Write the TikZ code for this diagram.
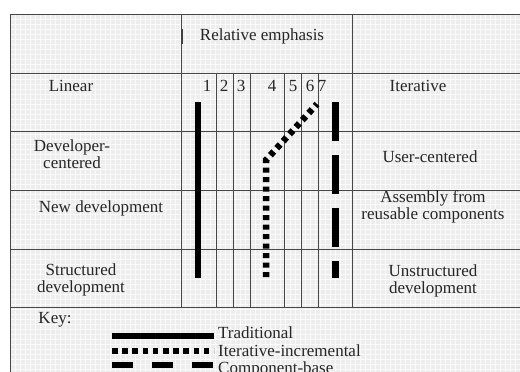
\documentclass[tikz,border=0pt]{standalone}
\usepackage{fontspec}
\setmainfont{Liberation Serif}
\usetikzlibrary{calc}

\begin{document}
\begin{tikzpicture}[x=1pt,y=-1pt,
    every node/.style={font=\fontsize{17}{17.5}\selectfont,text=black!85,align=center,inner sep=0pt},
    rule/.style={black!72,line width=0.9pt},
    tradline/.style={line width=6pt},
    iterline/.style={line width=6.5pt,dash pattern=on 5pt off 4.5pt},
    compline/.style={line width=7pt,dash pattern=on 39pt off 14pt}]
    \useasboundingbox (0,0) rectangle (520,372);
    % paper
    \fill[black!7] (10,14) rectangle (520,372);
    \foreach \x in {15,20,...,515}
        \draw[white!70!black!7,line width=0.4pt] (\x,14) -- (\x,372);
    \foreach \y in {19,24,...,369}
        \draw[white!70!black!7,line width=0.4pt] (10,\y) -- (520,\y);
    % table rules
    \foreach \y in {14,73,131,190,249,307}
        \draw[rule] (10,\y) -- (520,\y);
    \draw[rule] (10,14) -- (10,372);
    \foreach \x in {181,352}
        \draw[rule] (\x,14) -- (\x,307);
    \foreach \x in {216,233,250,284,301,318}
        \draw[rule] (\x,73) -- (\x,307);
    \draw[black!75,line width=1.6pt] (182,29) -- (182,44);
    % headings
    \node (hdr) at (262,36) {Relative emphasis};
    \foreach \n/\x in {1/207,2/224,3/241,4/272,5/293,6/310,7/322}
        \node (c\n) at (\x,86) {\n};
    \node (lin) at (71,86) {Linear};
    \node (dev) at (72,154) {Developer-\\centered};
    \node (new) at (101,208) {New development};
    \node (str) at (81,280) {Structured\\development};
    \node (itr) at (418,86) {Iterative};
    \node (usr) at (430,157) {User-centered};
    \node (asm) at (433,207) {Assembly from\\reusable components};
    \node (uns) at (433,281) {Unstructured\\development};
    % bars
    \draw[tradline] (198,102) -- (198,278);
    \draw[iterline] (266,277) -- (266,160) -- (317,104);
    \draw[compline] (335,102) -- (335,278);
    % key
    \node (key) at (55,320) {Key:};
    \node[anchor=west] (ktrad) at (218,333) {Traditional};
    \node[anchor=west] (kiter) at (218,351) {Iterative-incremental};
    \node[anchor=west] (kcomp) at (218,369) {Component-base};
    \draw[tradline] (112,336) -- (214,336);
    \draw[line width=6pt,dash pattern=on 5.5pt off 4.7pt] (112,351) -- (214,351);
    \draw[line width=6pt,dash pattern=on 21pt off 19pt] (112,365) -- (214,365);
\end{tikzpicture}
\end{document}
